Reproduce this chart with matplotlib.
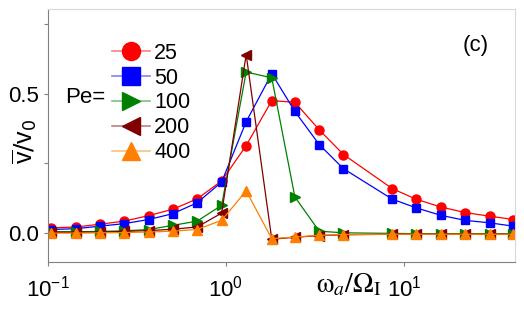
import numpy as np
import matplotlib
matplotlib.use('Agg')
import matplotlib.pyplot as plt
from matplotlib.lines import Line2D
from matplotlib.ticker import FixedLocator, NullLocator

plt.rcParams['font.family'] = ['Liberation Sans', 'DejaVu Sans']

# omega_a / Omega_I
w = [0.105, 0.144, 0.196, 0.268, 0.369, 0.504, 0.689, 0.947, 1.30, 1.81,
     2.44, 3.34, 4.57, 8.6, 11.7, 16.1, 22.0, 30.2, 41.1]

pe_labels = ['25', '50', '100', '200', '400']

v25 = [0.017, 0.020, 0.030, 0.041, 0.061, 0.084, 0.121, 0.186, 0.313, 0.475,
       0.469, 0.370, 0.281, 0.158, 0.120, 0.092, 0.072, 0.059, 0.047]
v50 = [0.011, 0.014, 0.023, 0.032, 0.047, 0.068, 0.107, 0.182, 0.399, 0.572,
       0.436, 0.317, 0.230, 0.120, 0.089, 0.062, 0.044, 0.035, 0.023]
v100 = [0.003, 0.003, 0.004, 0.006, 0.011, 0.026, 0.041, 0.098, 0.578, 0.557,
        0.128, 0.005, -0.001, -0.003, -0.004, -0.004, -0.004, -0.004, -0.004]
v200 = [0.001, 0.001, 0.002, 0.004, 0.007, 0.012, 0.020, 0.070, 0.641, -0.024,
        -0.017, -0.011, -0.008, -0.006, -0.006, -0.006, -0.006, -0.006, -0.006]
v400 = [-0.002, -0.002, -0.001, 0.000, 0.002, 0.005, 0.011, 0.044, 0.150, -0.022,
        -0.016, -0.010, -0.007, -0.006, -0.006, -0.006, -0.006, -0.006, -0.006]

series = [v25, v50, v100, v200, v400]
colors = ['#ff0000', '#0000ff', '#008000', '#800000', '#ff8000']
markers = ['o', 's', '>', '<', '^']
msizes = [6.5, 6, 7, 7, 7]

fig = plt.figure(figsize=(5.24, 3.09), dpi=100)
ax = fig.add_axes([0.091, 0.153, 0.892, 0.818])

for vals, c, m, ms in zip(series, colors, markers, msizes):
    ax.plot(w, vals, color=c, marker=m, markersize=ms, lw=0.9,
            markeredgecolor=c, markerfacecolor=c)

ax.set_xscale('log')
ax.set_xlim(0.1, 42)
ax.set_ylim(-0.105, 0.805)
ax.xaxis.set_minor_locator(NullLocator())
ax.yaxis.set_major_locator(FixedLocator([0.0, 0.5]))
ax.yaxis.set_minor_locator(FixedLocator([0.25, 0.75]))
ax.set_yticklabels(['0.0', '0.5'])

for s in ['left', 'bottom']:
    ax.spines[s].set_color('#808080')
for s in ['top', 'right']:
    ax.spines[s].set_color('#d8d8d8')
ax.tick_params(which='both', direction='out', length=3, width=0.8,
               color='#808080', labelsize=16, top=False, right=False)
ax.tick_params(axis='y', pad=3)
ax.tick_params(axis='x', pad=7)

# legend with faded lines
handles = []
for c, m in zip(colors, markers):
    rgba = matplotlib.colors.to_rgba(c, 0.5)
    handles.append(Line2D([], [], color=rgba, lw=1.2, marker=m, markersize=13,
                          markerfacecolor=c, markeredgecolor=c))
fig.legend(handles, pe_labels, loc='upper left', bbox_to_anchor=(0.213, 0.862),
           frameon=False, fontsize=15.5, handlelength=1.77, handletextpad=0.2,
           labelspacing=0.18, borderpad=0, borderaxespad=0)
fig.text(0.124, 0.684, 'Pe=', fontsize=16, va='center', ha='left')

fig.text(0.908, 0.853, '(c)', fontsize=16, ha='center', va='center')
fig.text(0.666, 0.078, r'$\mathrm{ω}_a/\Omega_\mathrm{I}$', fontsize=20,
         ha='center', va='center', math_fontfamily='stix')
fig.text(0.048, 0.544, r'$\overline{\mathregular{v}}/\mathregular{v}_0$',
         fontsize=18, rotation=90, ha='center', va='center')

fig.savefig('out.png', dpi=100)
